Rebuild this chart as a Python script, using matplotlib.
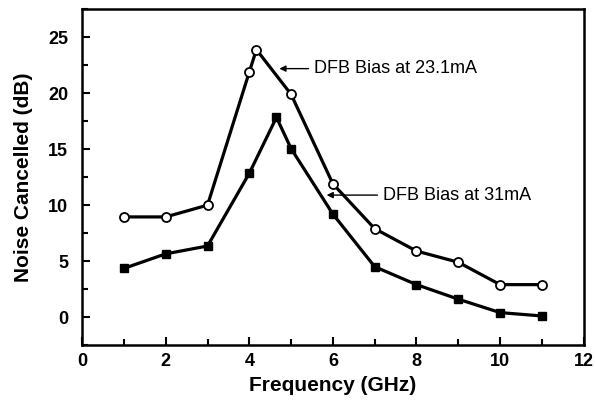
import matplotlib
matplotlib.use('Agg')
from matplotlib import pyplot as plt
from matplotlib.ticker import MultipleLocator

plt.rcParams['font.family'] = ['Liberation Sans', 'DejaVu Sans']

# data
freq_231 = [1, 2, 3, 4, 4.17, 5, 6, 7, 8, 9, 10, 11]
noise_231 = [8.95, 8.95, 10.0, 21.9, 23.9, 19.9, 11.9, 7.9, 5.9, 4.9, 2.9, 2.9]
freq_31 = [1, 2, 3, 4, 4.65, 5, 6, 7, 8, 9, 10, 11]
noise_31 = [4.35, 5.65, 6.35, 12.85, 17.85, 15.05, 9.2, 4.5, 2.9, 1.6, 0.4, 0.1]

fig = plt.figure(figsize=(5.95, 4.05), dpi=100)
ax = fig.add_axes([0.138, 0.148, 0.843, 0.829])

ax.plot(freq_231, noise_231, '-o', color='black', lw=2.3, ms=6.5,
        mfc='white', mec='black', mew=1.3)
ax.plot(freq_31, noise_31, '-s', color='black', lw=2.3, ms=6,
        mfc='black', mec='black')

ax.annotate('DFB Bias at 23.1mA', xy=(4.72, 22.2), xytext=(5.55, 22.2),
            fontsize=13, va='center', ha='left',
            arrowprops=dict(arrowstyle='-|>', color='black', lw=1.0,
                            mutation_scale=9, shrinkA=2, shrinkB=0))
ax.annotate('DFB Bias at 31mA', xy=(5.85, 10.9), xytext=(7.2, 10.9),
            fontsize=13, va='center', ha='left',
            arrowprops=dict(arrowstyle='-|>', color='black', lw=1.0,
                            mutation_scale=9, shrinkA=2, shrinkB=0))

ax.set_xlim(0, 12)
ax.set_ylim(-2.5, 27.5)
ax.xaxis.set_major_locator(MultipleLocator(2))
ax.xaxis.set_minor_locator(MultipleLocator(1))
ax.yaxis.set_major_locator(MultipleLocator(5))
ax.yaxis.set_minor_locator(MultipleLocator(2.5))
ax.tick_params(which='both', direction='in', top=False, right=False,
               width=1.5, labelsize=13)
ax.tick_params(which='major', length=6)
ax.tick_params(axis='x', which='major', pad=6)
ax.tick_params(axis='y', which='major', pad=10)
ax.tick_params(which='minor', length=4)
for lab in ax.get_xticklabels() + ax.get_yticklabels():
    lab.set_fontweight('bold')
for s in ax.spines.values():
    s.set_linewidth(1.8)

ax.set_xlabel('Frequency (GHz)', fontsize=15, fontweight='bold', labelpad=4)
ax.set_ylabel('Noise Cancelled (dB)', fontsize=15, fontweight='bold', labelpad=11)

fig.savefig('out.png', dpi=100)
